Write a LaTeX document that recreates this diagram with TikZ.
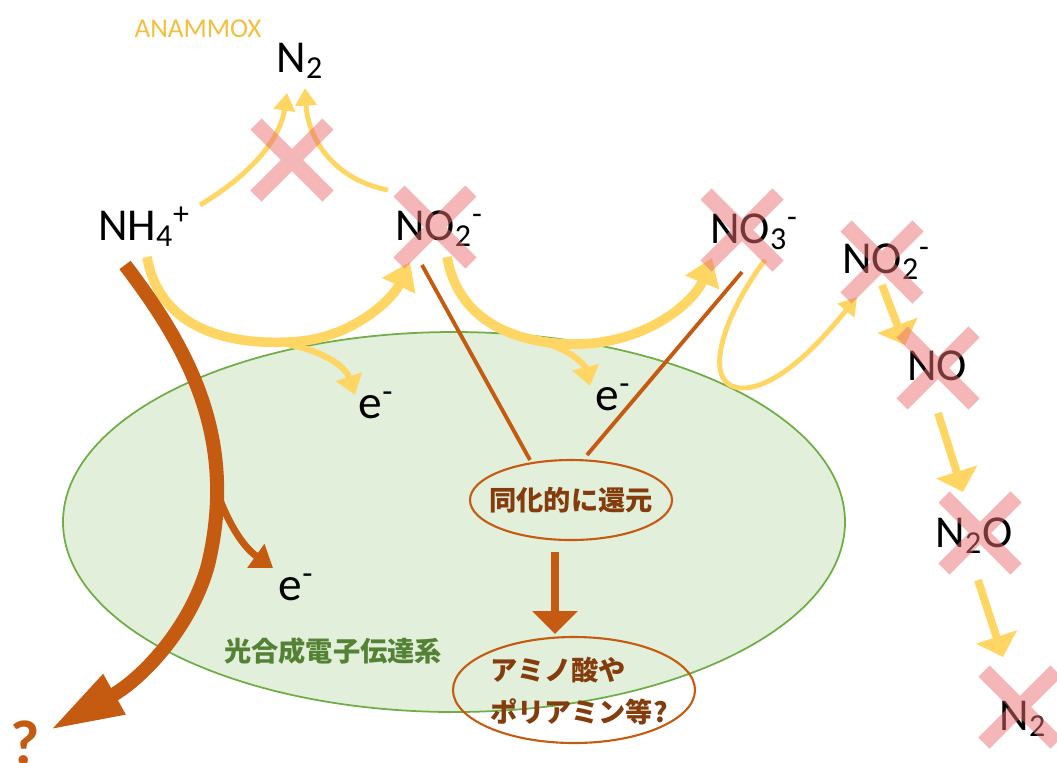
\documentclass[tikz,border=0pt]{standalone}
\usepackage{fontspec}
\setmainfont{Carlito}
\newfontfamily\jpfont{Noto Sans CJK JP}
\usetikzlibrary{arrows.meta,backgrounds}
\definecolor{yel}{HTML}{FFD663}
\definecolor{brn}{HTML}{C55A11}
\definecolor{dbrn}{HTML}{843C0C}
\definecolor{pinkx}{HTML}{E96D6D}
\definecolor{gfill}{HTML}{E2EFDA}
\definecolor{gline}{HTML}{70AD47}
\definecolor{gtext}{HTML}{548235}
\definecolor{anamc}{HTML}{F4BE3E}
\tikzset{
  chem/.style={font=\fontsize{26}{30}\selectfont, inner sep=0pt, anchor=base},
  elec/.style={font=\fontsize{27}{30}\selectfont, inner sep=0pt, anchor=base},
  anamtext/.style={font=\fontsize{15.5}{18}\selectfont, text=anamc, inner sep=0pt, anchor=base},
  jtext/.style={font=\jpfont\bfseries\fontsize{15.5}{24}\selectfont, text=dbrn, inner sep=0pt},
  gtextstyle/.style={font=\jpfont\bfseries\fontsize{15.5}{20}\selectfont, text=gtext, inner sep=0pt},
  qmark/.style={font=\bfseries\fontsize{36}{40}\selectfont, text=brn, inner sep=0pt, anchor=base},
  ythick/.style={draw=yel, line width=5.5pt, -{Triangle[width=20pt,length=15pt]}},
  ythin/.style={draw=yel, line width=2.8pt, -{Triangle[width=12pt,length=10pt]}},
  ybranch/.style={draw=yel, line width=3.5pt, -{Triangle[width=15pt,length=11pt]}},
  ystraight/.style={draw=yel, line width=4.5pt, -{Triangle[width=24pt,length=12pt]}},
  bbig/.style={draw=brn, line width=8pt, -{Triangle[width=24pt,length=42pt]}},
  bbranch/.style={draw=brn, line width=4pt, -{Triangle[width=16pt,length=12pt]}},
  bline/.style={draw=brn, line width=2.2pt},
  bdown/.style={draw=brn, line width=4.5pt, -{Triangle[width=25pt,length=13pt]}},
  oval/.style={draw=brn, line width=1.2pt},
  xcross/.pic={\draw[line width=9pt, pinkx, opacity=0.5] (-36,-36) -- (36,36) (-36,36) -- (36,-36);}
}
\begin{document}
\begin{tikzpicture}[x=0.02cm,y=-0.02cm]
\useasboundingbox (0,0) rectangle (1057,762);
% text nodes
\node[anamtext] (anammox) at (198,37) {ANAMMOX};
\node[chem] (n2a) at (300,72) {N\textsubscript{2}};
\node[chem] (nh4) at (144,240) {NH\textsubscript{4}\textsuperscript{+}};
\node[chem] (no2a) at (439,240) {NO\textsubscript{2}\textsuperscript{-}};
\node[chem] (no3) at (754,243) {NO\textsubscript{3}\textsuperscript{-}};
\node[chem] (no2b) at (886,273) {NO\textsubscript{2}\textsuperscript{-}};
\node[chem] (no) at (937,380) {NO};
\node[chem] (n2o) at (974,547) {N\textsubscript{2}O};
\node[chem] (n2b) at (1023,730) {N\textsubscript{2}};
\node[elec] (e1) at (376,418) {e\textsuperscript{-}};
\node[elec] (e2) at (613,410) {e\textsuperscript{-}};
\node[elec] (e3) at (296,600) {e\textsuperscript{-}};
\node[jtext] (dohka) at (571,500) {同化的に還元};
\node[jtext, align=left, anchor=west] (amino) at (490,691) {アミノ酸や\\ポリアミン等?};
\node[gtextstyle] (kogo) at (333,651) {光合成電子伝達系};
\node[qmark] (q) at (25,764) {?};
\coordinate (cell) at (454,522);
\coordinate (amc) at (574,690);
% background ellipse and ovals
\begin{scope}[on background layer]
  \draw[gline, fill=gfill, line width=1pt] (cell) ellipse [x radius=391, y radius=190];
\end{scope}
\draw[oval] (dohka.center) ellipse [x radius=101, y radius=40];
\draw[oval] (amc) ellipse [x radius=121, y radius=53];
% anammox arrows
\draw[ythin] ([shift={(56,-35)}]nh4.base) .. controls (250,175) and (280,140) .. ([shift={(-13,21)}]n2a.base);
\draw[ythin] ([shift={(-51,-50)}]no2a.base) .. controls (335,180) and (308,140) .. ([shift={(5,16)}]n2a.base);
% nitrification arcs
\draw[ythick] ([shift={(3,17)}]nh4.base) .. controls (160,330) and (230,345) .. (290,342) .. controls (350,340) and (392,300) .. ([shift={(-29,22)}]no2a.base);
\coordinate (b1) at (286,344);
\draw[ybranch] (b1) .. controls (320,350) and (345,365) .. ([shift={(-21,-23)}]e1.base);
\draw[ythick] ([shift={(8,17)}]no2a.base) .. controls (460,330) and (530,345) .. (580,344) .. controls (650,342) and (695,300) .. ([shift={(-42,15)}]no3.base);
\coordinate (b2) at (548,344);
\draw[ybranch] (b2) .. controls (570,350) and (585,365) .. ([shift={(-23,-24)}]e2.base);
% denitrification
\draw[ythin] ([shift={(11,17)}]no3.base) .. controls (720,320) and (700,390) .. (745,388) .. controls (785,385) and (830,330) .. ([shift={(-29,24)}]no2b.base);
\draw[ystraight] ([shift={(-4,12)}]no2b.base) -- ([shift={(-32,-35)}]no.base);
\draw[ystraight] ([shift={(1,33)}]no.base) -- ([shift={(-11,-55)}]n2o.base);
\draw[ystraight] ([shift={(4,33)}]n2o.base) -- ([shift={(-20,-73)}]n2b.base);
% brown arrows
\draw[bbig] ([shift={(-19,25)}]nh4.base) .. controls (190,350) and (238,440) .. (208,565) .. controls (190,630) and (140,680) .. ([shift={(25,-34)}]q.base);
\coordinate (b3) at (220,500);
\draw[bbranch] (b3) .. controls (232,530) and (245,548) .. ([shift={(-23,-32)}]e3.base);
\draw[bline] ([shift={(-17,25)}]no2a.base) -- ([shift={(-41,-40)}]dohka.center);
\draw[bline] ([shift={(-12,29)}]no3.base) -- ([shift={(16,-45)}]dohka.center);
\draw[bdown] ([shift={(-16,52)}]dohka.center) -- ([shift={(-19,-56)}]amc);
% crosses
\pic at (292,160) {xcross};
\pic at (435,227) {xcross};
\pic at (742,230) {xcross};
\pic at (882,262) {xcross};
\pic at (938,368) {xcross};
\pic at (980,533) {xcross};
\pic at (1020,707) {xcross};
\end{tikzpicture}
\end{document}
